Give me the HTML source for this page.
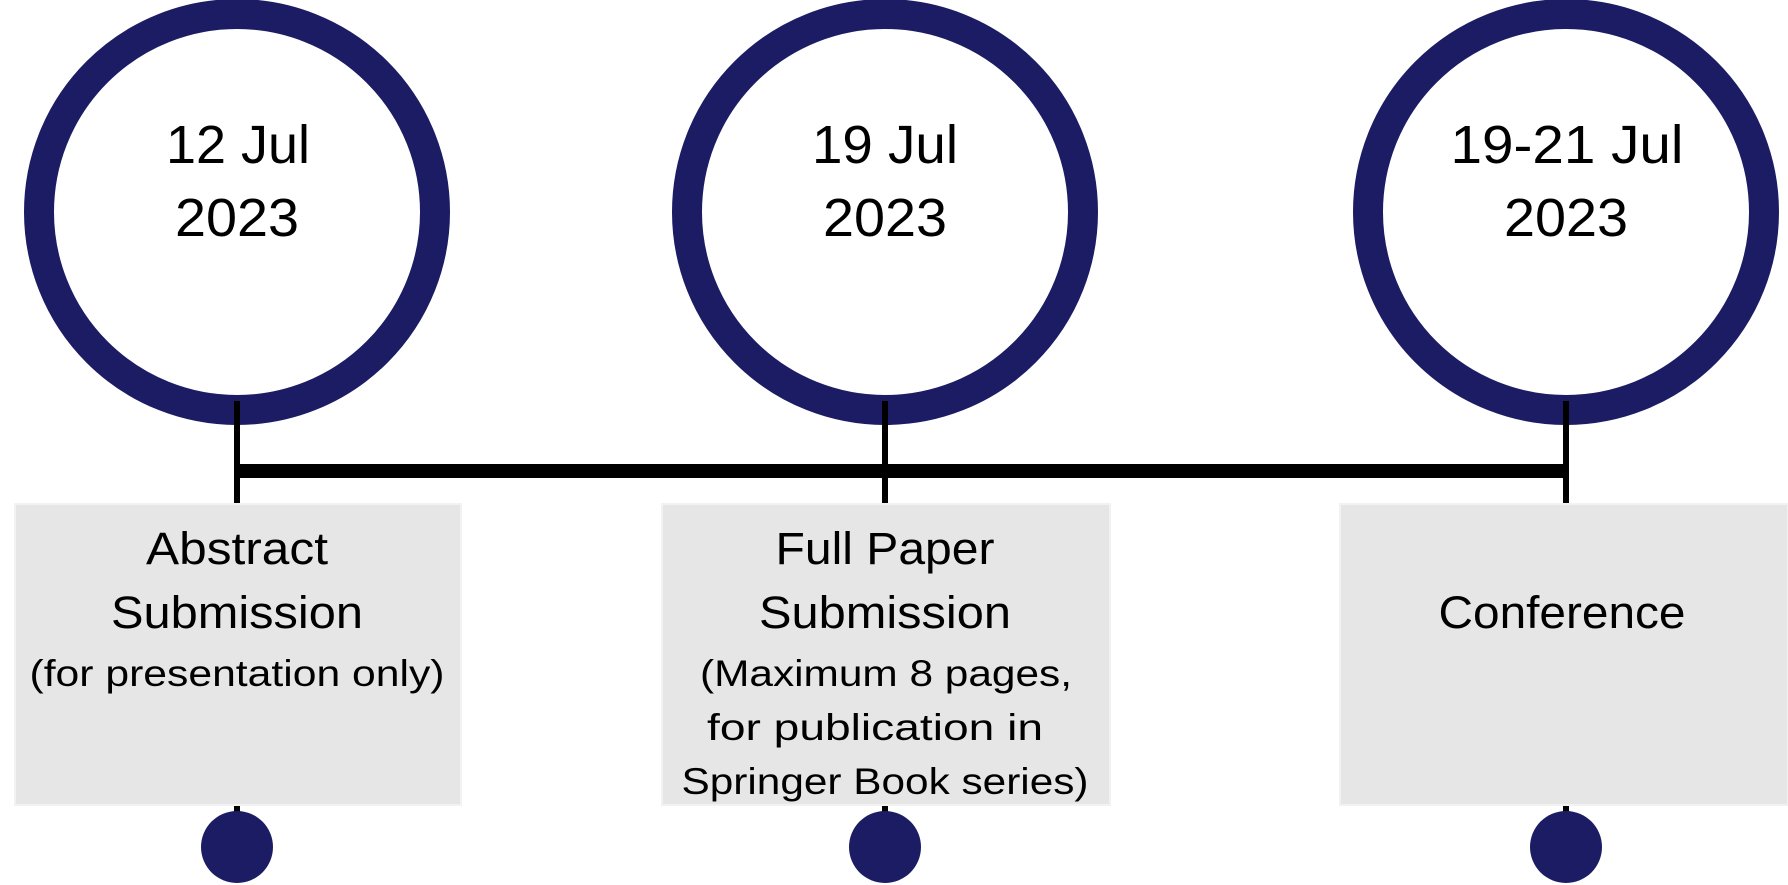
<!DOCTYPE html>
<html><head><meta charset="utf-8"><style>html,body{margin:0;padding:0;background:#fff}svg{display:block}</style></head>
<body>
<svg width="1788" height="885" viewBox="0 0 1788 885" xmlns="http://www.w3.org/2000/svg" font-family="'Liberation Sans', sans-serif" fill="#000">
<g fill="none" stroke="#1b1c63" stroke-width="30">
<circle cx="237" cy="212" r="198"/>
<circle cx="885" cy="212" r="198"/>
<circle cx="1566" cy="212" r="198"/>
</g>
<g stroke="#000" stroke-width="6">
<line x1="237" y1="401" x2="237" y2="505"/>
<line x1="885" y1="401" x2="885" y2="505"/>
<line x1="1566" y1="401" x2="1566" y2="505"/>
<line x1="237" y1="800" x2="237" y2="815"/>
<line x1="885" y1="800" x2="885" y2="815"/>
<line x1="1566" y1="800" x2="1566" y2="815"/>
</g>
<rect x="237" y="464" width="1329" height="14" fill="#000"/>
<g fill="#e6e6e6" stroke="#f2f2f2" stroke-width="2">
<rect x="15" y="504" width="446" height="301"/>
<rect x="662" y="504" width="448" height="301"/>
<rect x="1340" y="504" width="448" height="301"/>
</g>
<g fill="#1b1c63">
<circle cx="237" cy="847" r="36"/>
<circle cx="885" cy="847" r="36"/>
<circle cx="1566" cy="847" r="36"/>
</g>
<g font-size="54" text-anchor="middle">
<text x="238" y="163" textLength="144" lengthAdjust="spacingAndGlyphs">12 Jul</text>
<text x="237" y="236" textLength="124" lengthAdjust="spacingAndGlyphs">2023</text>
<text x="885" y="163" textLength="146" lengthAdjust="spacingAndGlyphs">19 Jul</text>
<text x="885" y="236" textLength="124" lengthAdjust="spacingAndGlyphs">2023</text>
<text x="1567" y="163" textLength="233" lengthAdjust="spacingAndGlyphs">19-21 Jul</text>
<text x="1566" y="236" textLength="124" lengthAdjust="spacingAndGlyphs">2023</text>
</g>
<g font-size="45" text-anchor="middle">
<text x="237" y="564" textLength="182" lengthAdjust="spacingAndGlyphs">Abstract</text>
<text x="237" y="628" textLength="252" lengthAdjust="spacingAndGlyphs">Submission</text>
<text x="885" y="564" textLength="219" lengthAdjust="spacingAndGlyphs">Full Paper</text>
<text x="885" y="628" textLength="252" lengthAdjust="spacingAndGlyphs">Submission</text>
<text x="1562" y="628" textLength="247" lengthAdjust="spacingAndGlyphs">Conference</text>
</g>
<g font-size="37" text-anchor="middle">
<text x="237" y="686" textLength="415" lengthAdjust="spacingAndGlyphs">(for presentation only)</text>
<text x="886" y="686" textLength="372" lengthAdjust="spacingAndGlyphs">(Maximum 8 pages,</text>
<text x="875" y="740" textLength="336" lengthAdjust="spacingAndGlyphs">for publication in</text>
<text x="885" y="794" textLength="407" lengthAdjust="spacingAndGlyphs">Springer Book series)</text>
</g>
</svg>
</body></html>
